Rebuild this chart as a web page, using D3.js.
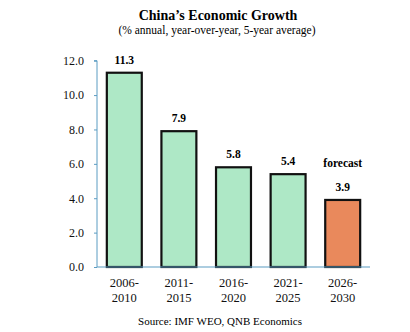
<!DOCTYPE html>
<html><head><meta charset="utf-8">
<script src="https://cdn.jsdelivr.net/npm/d3@7"></script>
<style>body{margin:0;background:#fff}svg{display:block}</style>
</head><body>
<script>
const categories = [["2006-","2010"],["2011-","2015"],["2016-","2020"],["2021-","2025"],["2026-","2030"]];
const values = [11.3, 7.9, 5.8, 5.4, 3.9];
const forecast = [false, false, false, false, true];
const yTicks = [0, 2, 4, 6, 8, 10, 12];
const title = "China\u2019s Economic Growth";
const subtitle = "(% annual, year-over-year, 5-year average)";
const source = "Source: IMF WEO, QNB Economics";

const W = 410, H = 332;
const svg = d3.select("body").append("svg").attr("width", W).attr("height", H);
const font = "'Liberation Serif','Times New Roman',serif";
const x = d3.scaleBand().domain(d3.range(values.length)).range([97, 370]).paddingInner(0.36).paddingOuter(0.18);
const y = d3.scaleLinear().domain([0, 12]).range([267, 60.7]);
const axisColor = "#5b9cc2";

svg.append("text").attr("x", 218).attr("y", 20).attr("text-anchor", "middle")
  .attr("font-family", font).attr("font-weight", "bold").attr("font-size", 14).text(title);
svg.append("text").attr("x", 217).attr("y", 34).attr("text-anchor", "middle")
  .attr("font-family", font).attr("font-size", 11.5).text(subtitle);

const ya = svg.append("g").attr("transform", "translate(97,0)")
  .call(d3.axisLeft(y).tickValues(yTicks).tickFormat(d3.format(".1f")).tickSize(3).tickPadding(10));
ya.select(".domain").attr("stroke", axisColor).attr("d", `M-3,${y(12)}H0V${y(0)}`);
ya.selectAll(".tick line").attr("stroke", axisColor);
ya.selectAll(".tick text").attr("font-family", font).attr("font-size", 12).attr("fill", "#111");

svg.selectAll("rect.bar").data(values).join("rect").attr("class", "bar")
  .attr("x", (d, i) => x(i)).attr("width", x.bandwidth())
  .attr("y", d => y(d)).attr("height", d => y(0) - y(d))
  .attr("fill", (d, i) => forecast[i] ? "#e9895c" : "#aee8c6")
  .attr("stroke", "#111").attr("stroke-width", 2.2);

svg.append("line").attr("x1", 97).attr("x2", 370).attr("y1", y(0)).attr("y2", y(0))
  .attr("stroke", axisColor).attr("stroke-width", 1.2);

svg.selectAll("text.val").data(values).join("text").attr("class", "val")
  .attr("x", (d, i) => x(i) + x.bandwidth() / 2).attr("y", d => y(d) - 9)
  .attr("text-anchor", "middle").attr("font-family", font).attr("font-weight", "bold")
  .attr("font-size", 11.5).text(d => d.toFixed(1));

values.forEach((d, i) => {
  if (forecast[i]) {
    svg.append("text").attr("x", x(i) + x.bandwidth() / 2).attr("y", y(d) - 33)
      .attr("text-anchor", "middle").attr("font-family", font).attr("font-weight", "bold")
      .attr("font-size", 11.5).text("forecast");
  }
});

const xl = svg.selectAll("text.cat").data(categories).join("text").attr("class", "cat")
  .attr("text-anchor", "middle").attr("font-family", font).attr("font-size", 12.5).attr("fill", "#111");
xl.each(function(d, i) {
  const t = d3.select(this);
  d.forEach((line, j) => {
    t.append("tspan").attr("x", x(i) + x.bandwidth() / 2).attr("y", 287 + j * 15).text(line);
  });
});

svg.append("text").attr("x", 220).attr("y", 325).attr("text-anchor", "middle")
  .attr("font-family", font).attr("font-size", 11).text(source);
</script>
</body></html>
